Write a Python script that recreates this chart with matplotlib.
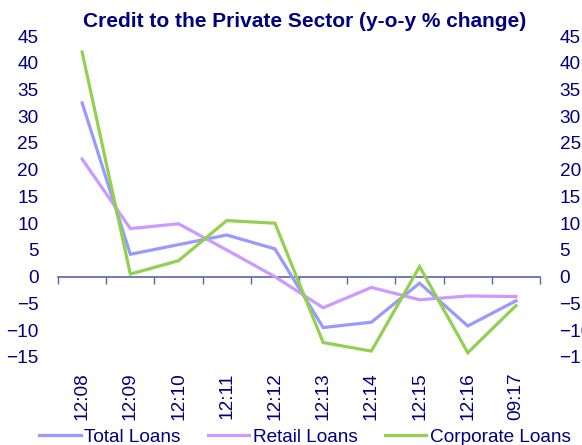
import matplotlib
matplotlib.use("Agg")
import matplotlib.pyplot as plt
import numpy as np

plt.rcParams['font.family'] = ['Liberation Sans', 'DejaVu Sans']

# dati
periodi = ["12:08", "12:09", "12:10", "12:11", "12:12", "12:13", "12:14", "12:15", "12:16", "09:17"]
total_loans = [32.5, 4.2, 6.0, 7.8, 5.2, -9.5, -8.5, -1.2, -9.2, -4.5]
retail_loans = [22.0, 9.0, 9.9, 5.0, 0.0, -5.8, -2.0, -4.3, -3.6, -3.7]
corporate_loans = [42.0, 0.5, 3.0, 10.5, 10.0, -12.3, -13.9, 1.9, -14.2, -5.4]

navy = '#000080'
col_total = '#9999FF'
col_retail = '#CC99FF'
col_corp = '#92D050'
col_asse = '#5a64a8'
fs = 13.7

fig = plt.figure(figsize=(5.82, 4.45), dpi=100)
ax = fig.add_axes([0.0997, 0.1978, 0.8283, 0.7213])

x = np.arange(len(periodi))
ax.plot(x, total_loans, color=col_total, lw=2.3, label='Total Loans', solid_joinstyle='miter')
ax.plot(x, retail_loans, color=col_retail, lw=2.3, label='Retail Loans', solid_joinstyle='miter')
ax.plot(x, corporate_loans, color=col_corp, lw=2.3, label='Corporate Loans', solid_joinstyle='miter')

ax.set_xlim(-0.5, len(periodi) - 0.5)
ax.set_ylim(-15, 45)
ax.set_yticks(np.arange(-15, 46, 5))
ax.set_xticks(x)
ax.set_xticklabels(periodi, rotation=90, fontsize=fs, color=navy)
ax.tick_params(axis='x', length=0, pad=11)
ax.tick_params(axis='y', length=0, labelsize=fs, labelcolor=navy, pad=14,
               labelright=True, right=False)
for s in ax.spines.values():
    s.set_visible(False)

# asse dello zero con i tick
sec = ax.secondary_xaxis(0.25)
sec.set_xticks(np.arange(-0.5, len(periodi), 1.0))
sec.set_xticklabels([])
sec.tick_params(axis='x', direction='out', length=5, width=1, color=col_asse)
sec.spines['bottom'].set_color(col_asse)
sec.spines['bottom'].set_linewidth(1.2)

fig.text(0.524, 0.951, "Credit to the Private Sector (y-o-y % change)", ha='center', va='center',
         fontsize=15, fontweight='bold', color=navy)

leg = fig.legend(loc='center', bbox_to_anchor=(0.524, 0.018), ncol=3, frameon=False,
                 fontsize=fs, handlelength=2.2, handletextpad=0.2, columnspacing=1.4)
for t in leg.get_texts():
    t.set_color(navy)

fig.savefig("out.png", dpi=100)
